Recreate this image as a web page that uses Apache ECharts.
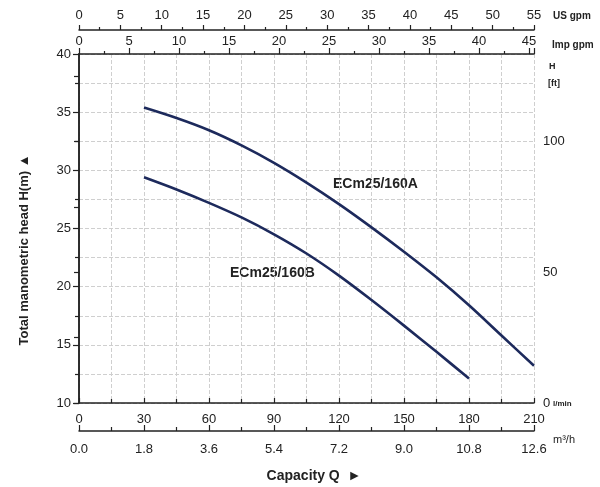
<!DOCTYPE html>
<html>
<head>
<meta charset="utf-8">
<script src="https://cdn.jsdelivr.net/npm/echarts@6/dist/echarts.min.js"></script>
<style>
html,body{margin:0;padding:0;background:#fff;}
#c{width:600px;height:487px;}
</style>
</head>
<body>
<div id="c"></div>
<script>
// Capacity Q in l/min and head H in m
const qA = [30, 45, 60, 75, 90, 105, 120, 135, 150, 165, 180, 195, 210];
const hA = [35.4, 34.5, 33.45, 32.15, 30.65, 28.95, 27.1, 25.1, 23.0, 20.8, 18.4, 15.8, 13.2];
const qB = [30, 45, 60, 75, 90, 105, 120, 135, 150, 165, 180];
const hB = [29.4, 28.35, 27.2, 25.95, 24.5, 22.85, 20.95, 18.85, 16.65, 14.4, 12.1];
const nameA = 'ECm25/160A';
const nameB = 'ECm25/160B';

const FONT = 'Liberation Sans, Arial, sans-serif';
const INK = '#222';
const CURVE = '#1d2a5c';
const GRIDC = '#cfcfcf';

const chart = echarts.init(document.getElementById('c'), null, {renderer: 'canvas'});

const axLine = {show: true, lineStyle: {color: INK, width: 1.5}};
const lbl = (extra) => Object.assign({color: INK, fontFamily: FONT, fontSize: 13}, extra || {});
const dashSplit = {show: true, lineStyle: {color: GRIDC, width: 1, type: [4, 2]}};

chart.setOption({
  animation: false,
  grid: {left: 79, right: 66, top: 54, bottom: 84},
  xAxis: [
    { // l/min
      type: 'value', position: 'bottom', min: 0, max: 210, interval: 30,
      axisLine: axLine,
      axisTick: {show: true, inside: true, length: 5, lineStyle: {color: INK, width: 1.2}},
      minorTick: {show: true, splitNumber: 2, length: 4, lineStyle: {color: INK, width: 1.2}},
      axisLabel: lbl({margin: 10}),
      splitLine: dashSplit,
      minorSplitLine: dashSplit
    },
    { // m3/h
      type: 'value', position: 'bottom', offset: 28, min: 0, max: 12.6, interval: 1.8,
      axisLine: axLine,
      axisTick: {show: true, inside: true, length: 6, lineStyle: {color: INK, width: 1.2}},
      minorTick: {show: true, splitNumber: 2, length: 4, lineStyle: {color: INK, width: 1.2}},
      axisLabel: lbl({margin: 12, formatter: v => v.toFixed(1)}),
      splitLine: {show: false}
    },
    { // Imp gpm
      type: 'value', position: 'top', min: 0, max: 45.5, interval: 5,
      axisLine: axLine,
      axisTick: {show: true, inside: false, length: 6, lineStyle: {color: INK, width: 1.2}},
      minorTick: {show: true, splitNumber: 2, length: 3, lineStyle: {color: INK, width: 1.2}},
      axisLabel: lbl({margin: 6, showMaxLabel: false, formatter: v => (Math.abs(v % 5) < 1e-6 ? String(v) : '')}),
      splitLine: {show: false}
    },
    { // US gpm
      type: 'value', position: 'top', offset: 24, min: 0, max: 55, interval: 5,
      axisLine: axLine,
      axisTick: {show: true, inside: false, length: 5, lineStyle: {color: INK, width: 1.2}},
      minorTick: {show: true, splitNumber: 2, length: 3, lineStyle: {color: INK, width: 1.2}},
      axisLabel: lbl({margin: 8}),
      splitLine: {show: false}
    }
  ],
  yAxis: [
    { // H m
      type: 'value', position: 'left', min: 10, max: 40, interval: 5,
      axisLine: axLine,
      axisTick: {show: true, inside: false, length: 6, lineStyle: {color: INK, width: 1.2}},
      minorTick: {show: true, splitNumber: 2, length: 4, lineStyle: {color: INK, width: 1.2}},
      axisLabel: lbl({margin: 8}),
      splitLine: dashSplit,
      minorSplitLine: dashSplit
    },
    { // H ft
      type: 'value', position: 'right', min: 0, max: 133.5, interval: 25,
      axisLine: axLine,
      axisTick: {show: true, inside: true, length: 5, lineStyle: {color: INK, width: 1.2}},
      axisLabel: lbl({margin: 9, showMaxLabel: false, formatter: v => (Math.abs(v % 50) < 1e-6 ? String(v) : '')}),
      splitLine: {show: false}
    }
  ],
  series: [
    {
      name: nameA, type: 'line', xAxisIndex: 0, yAxisIndex: 0,
      data: qA.map((q, i) => [q, hA[i]]),
      smooth: 0.3, symbol: 'none',
      lineStyle: {color: CURVE, width: 2.6}
    },
    {
      name: nameB, type: 'line', xAxisIndex: 0, yAxisIndex: 0,
      data: qB.map((q, i) => [q, hB[i]]),
      smooth: 0.3, symbol: 'none',
      lineStyle: {color: CURVE, width: 2.6}
    }
  ],
  graphic: [
    {type: 'text', left: 333, top: 177, style: {text: nameA, font: 'bold 14px ' + FONT, fill: INK}},
    {type: 'text', left: 230, top: 266, style: {text: nameB, font: 'bold 14px ' + FONT, fill: INK}},
    {type: 'text', x: 24, y: 250, rotation: Math.PI / 2,
      style: {text: 'Total manometric head H(m) \u25B2', font: 'bold 13px ' + FONT, fill: INK, align: 'center', verticalAlign: 'middle'}},
    {type: 'text', x: 314, y: 476,
      style: {text: 'Capacity Q  \u25BA', font: 'bold 14px ' + FONT, fill: INK, align: 'center', verticalAlign: 'middle'}},
    {type: 'text', left: 553, top: 11, style: {text: 'US gpm', font: 'bold 10px ' + FONT, fill: INK}},
    {type: 'text', left: 552, top: 40, style: {text: 'Imp gpm', font: 'bold 10px ' + FONT, fill: INK}},
    {type: 'text', left: 549, top: 62, style: {text: 'H', font: 'bold 9px ' + FONT, fill: INK}},
    {type: 'text', left: 548, top: 79, style: {text: '[ft]', font: 'bold 9px ' + FONT, fill: INK}},
    {type: 'text', left: 553, top: 400, style: {text: 'l/min', font: 'bold 8px ' + FONT, fill: INK}},
    {type: 'text', left: 553, top: 434, style: {text: 'm\u00B3/h', font: '11px ' + FONT, fill: INK}}
  ]
});
</script>
</body>
</html>
